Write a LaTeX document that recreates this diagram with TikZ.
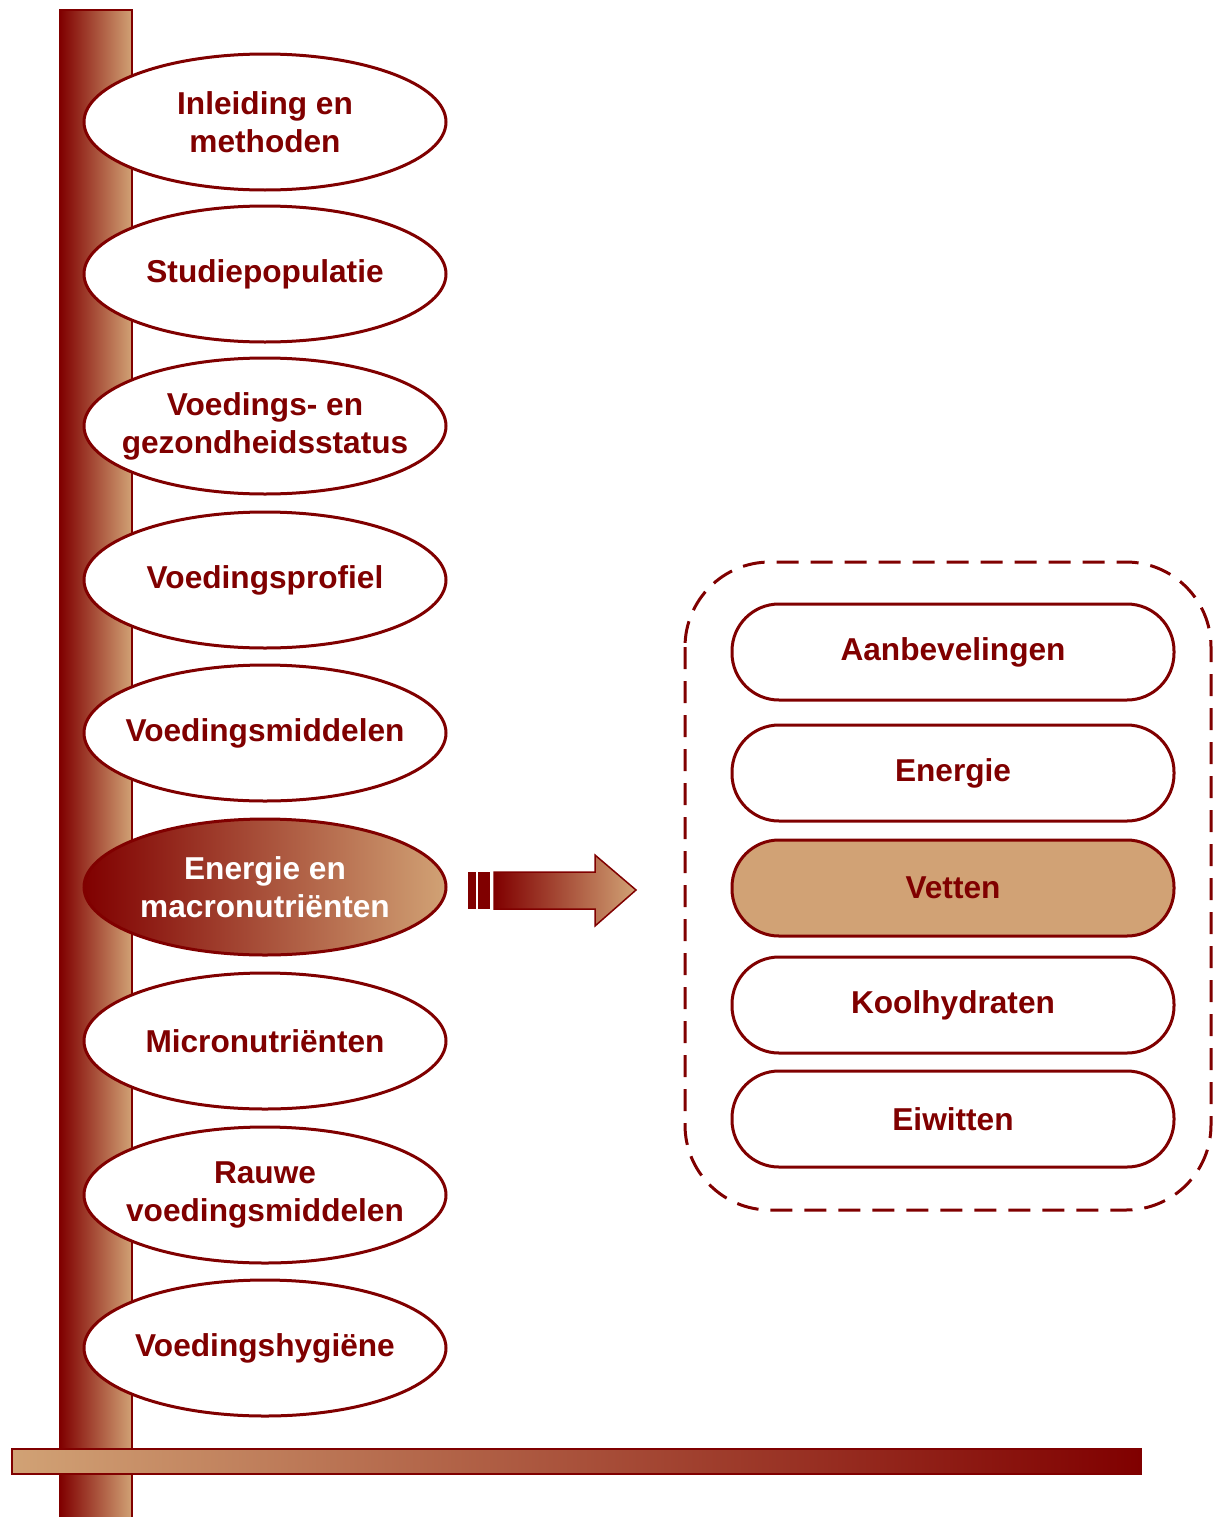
\documentclass[tikz,border=0pt]{standalone}
\usepackage{fontspec}
\setmainfont{Liberation Sans}
\usetikzlibrary{shapes.geometric,positioning}
\definecolor{donkerrood}{RGB}{128,0,0}
\definecolor{zand}{RGB}{209,162,117}

\tikzset{
  hoofdstuk/.style={ellipse,draw=donkerrood,line width=.3mm,fill=white,minimum width=36.2mm,minimum height=13.6mm,inner xsep=-5mm,inner ysep=0pt,align=center,text=donkerrood,font=\bfseries\fontsize{9}{10.8}\selectfont},
  onderdeel/.style={rectangle,rounded corners=4.7mm,draw=donkerrood,line width=.3mm,fill=white,minimum width=44.2mm,minimum height=9.6mm,inner sep=0pt,text=donkerrood,font=\bfseries\fontsize{9}{10.8}\selectfont},
  balk/.style={draw=donkerrood,line width=.15mm}
}

\begin{document}
\begin{tikzpicture}[x=.1mm,y=-.1mm]
  \useasboundingbox (0,0) rectangle (1213,1517);
  % verticale balk
  \path[balk,left color=donkerrood,right color=zand] (60,10) rectangle (132,1540);

  % hoofdstukken
  \foreach \y/\naam/\tekst in {122/inl/{Inleiding en\\methoden},274/pop/Studiepopulatie,426/stat/{Voedings- en\\gezondheidsstatus},580/prof/Voedingsprofiel,733/midd/Voedingsmiddelen,1041/micro/Micronutriënten,1195/rauw/{Rauwe\\voedingsmiddelen},1348/hyg/Voedingshygiëne}
    \node[hoofdstuk] (\naam) at (265,\y) {\tekst};
  \node[hoofdstuk,left color=donkerrood,right color=zand,text=white] (macro) at (265,887) {Energie en\\macronutriënten};

  % pijl
  \fill[donkerrood] (468,872) rectangle (476,909);
  \fill[donkerrood] (478,872) rectangle (490,909);
  \path[balk,left color=donkerrood,right color=zand] (494,872) -- (595,872) -- (595,855) -- (636,890) -- (595,926) -- (595,909) -- (494,909) -- cycle;

  % onderdelen
  \draw[donkerrood,line width=.3mm,dash pattern=on 2.2mm off 1.2mm,rounded corners=8.5mm] (685,562) rectangle (1211,1210);
  \foreach \y/\naam/\tekst in {652/aanb/Aanbevelingen,773/ener/Energie,1005/kool/Koolhydraten,1119/eiw/Eiwitten}
    \node[onderdeel] (\naam) at (953,\y) {\tekst};
  \node[onderdeel,fill=zand] (vet) at (953,888) {Vetten};

  % horizontale balk
  \path[balk,left color=zand,right color=donkerrood] (12,1449) rectangle (1141,1474);
\end{tikzpicture}
\end{document}
